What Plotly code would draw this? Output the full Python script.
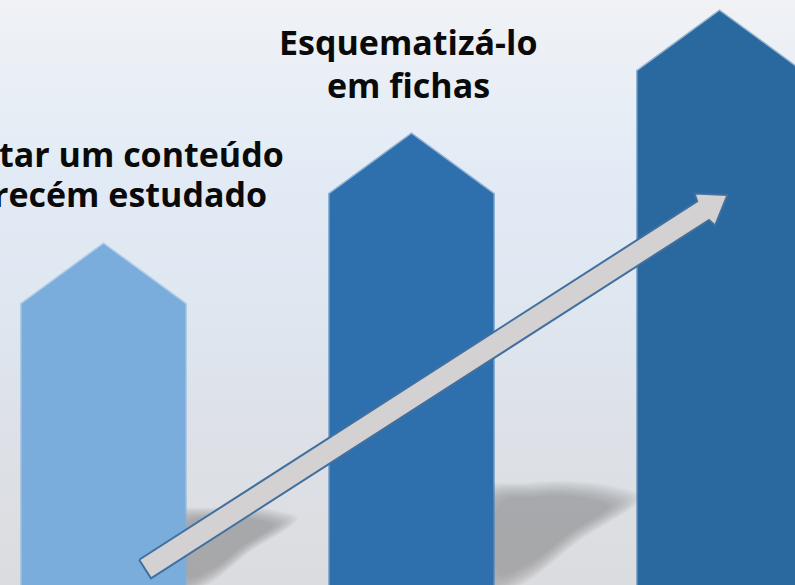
import plotly.graph_objects as go

# ---------------- data ----------------
categories = ["Etapa 1", "Etapa 2", "Etapa 3"]
bar_values = [341, 451, 574]          # height of each arrow-bar tip
bar_colors = ["#7aaddc", "#2e70ae", "#2a68a0"]
label_top_lines = ["Esquematizá-lo", "em fichas"]
label_left_lines = ["tar um conteúdo", "recém estudado"]
trend_start = [0.135, 16]
trend_end = [2.026, 390]

# ---------------- geometry helpers ----------------
W, H = 795, 585
X0, X1 = -103.5 / 308.0, (W - 103.5) / 308.0
Y0, Y1 = 0, H
PX = W / (X1 - X0)  # pixels per x unit


def to_px(x, y):
    return (x - X0) * PX, y


def to_data(px, py):
    return px / PX + X0, py


half_w = 82.0 / PX
peak_drop = 60.0

fig = go.Figure()

# background gradient
fig.add_trace(go.Scatter(
    x=[X0, X1, X1, X0, X0], y=[Y0, Y0, Y1, Y1, Y0],
    mode="lines", line=dict(width=0), fill="toself",
    fillgradient=dict(type="vertical", start=0, stop=H,
                      colorscale=[[0, "#dbdcdf"], [0.25, "#dde1e7"],
                                  [0.5, "#dfe7f1"], [0.7, "#e2ebf5"],
                                  [1, "#f0f2f5"]]),
    hoverinfo="skip", showlegend=False))

# shadows (soft, layered)
for i, v in enumerate(bar_values):
    L = 0.296 * v
    xr_px, _ = to_px(i + half_w, 0)
    base = [(-10, -5), (-10, 0.66 * L), (0.3 * L, 0.72 * L), (0.55 * L, 0.73 * L),
            (0.85 * L, 0.69 * L), (1.0 * L, 0.63 * L), (0.6 * L, 0.35 * L),
            (0.25 * L, 0.08 * L)]
    cx = sum(p[0] for p in base) / len(base)
    cy = sum(p[1] for p in base) / len(base)
    n = 14
    for k in range(n):
        s = 1.2 - 0.45 * k / (n - 1)
        xs, ys = [], []
        for (a, b) in base + [base[0]]:
            pxx = xr_px + cx + (a - cx) * s
            pyy = cy + (b - cy) * s
            dx, dy = to_data(pxx, pyy)
            xs.append(dx)
            ys.append(dy)
        fig.add_trace(go.Scatter(x=xs, y=ys, mode="lines", line=dict(width=0),
                                 line_shape="spline",
                                 fill="toself", fillcolor="rgba(110,112,118,0.043)",
                                 hoverinfo="skip", showlegend=False))

# arrow-shaped bars
for i, (cat, v, c) in enumerate(zip(categories, bar_values, bar_colors)):
    xs = [i - half_w, i - half_w, i, i + half_w, i + half_w, i - half_w]
    ys = [0, v - peak_drop, v, v - peak_drop, 0, 0]
    # soft edge
    fig.add_trace(go.Scatter(x=xs, y=ys, mode="lines",
                             line=dict(color=c, width=3), opacity=0.45,
                             hoverinfo="skip", showlegend=False))
    fig.add_trace(go.Scatter(x=xs, y=ys, mode="lines", line=dict(width=0),
                             fill="toself", fillcolor=c, name=cat,
                             hoverinfo="skip", showlegend=False))

# trend arrow
tx, ty = to_px(*trend_start)
hx, hy = to_px(*trend_end)
dx, dy = hx - tx, hy - ty
ln = (dx ** 2 + dy ** 2) ** 0.5
ux, uy = dx / ln, dy / ln
nx, ny = -uy, ux
w, hw, hl = 11.0, 19.0, 24.0
bx, by = hx - ux * hl, hy - uy * hl
pts = [
    (tx + nx * w, ty + ny * w),
    (bx + nx * w - ux * 5, by + ny * w - uy * 5),
    (bx + nx * hw - ux * 3, by + ny * hw - uy * 3),
    (hx, hy),
    (bx - nx * hw - ux * 3, by - ny * hw - uy * 3),
    (bx - nx * w - ux * 5, by - ny * w - uy * 5),
    (tx - nx * w, ty - ny * w),
]
pts.append(pts[0])
ax_, ay_ = zip(*[to_data(p, q) for p, q in pts])
fig.add_trace(go.Scatter(x=list(ax_), y=list(ay_), mode="lines",
                         line=dict(color="#41709f", width=2),
                         fill="toself", fillcolor="#d3d1d2",
                         hoverinfo="skip", showlegend=False))

# labels
font = dict(family="Open Sans", size=34, color="#0a0a0a")
top_y = [543, 500]
for t, y in zip(label_top_lines, top_y):
    fig.add_annotation(x=0.99, y=y, xref="x", yref="y", text="<b>%s</b>" % t,
                       showarrow=False, font=font, xanchor="center", yanchor="middle",
                       height=40)
left_y = [431, 391]
left_right_px = [286, 269]
for t, y, rp in zip(label_left_lines, left_y, left_right_px):
    fig.add_annotation(x=rp / W, y=y, xref="paper", yref="y", text="<b>%s</b>" % t,
                       showarrow=False, font=font, xanchor="right", yanchor="middle",
                       height=38)

fig.update_layout(
    width=W, height=H, margin=dict(l=0, r=0, t=0, b=0),
    paper_bgcolor="#e4e9ef", plot_bgcolor="#e4e9ef",
    xaxis=dict(range=[X0, X1], visible=False, fixedrange=True),
    yaxis=dict(range=[Y0, Y1], visible=False, fixedrange=True),
    showlegend=False,
)
fig.write_html("out.html", config={"displayModeBar": False},
               post_script="document.body.style.margin='0';document.body.style.overflow='hidden';")
